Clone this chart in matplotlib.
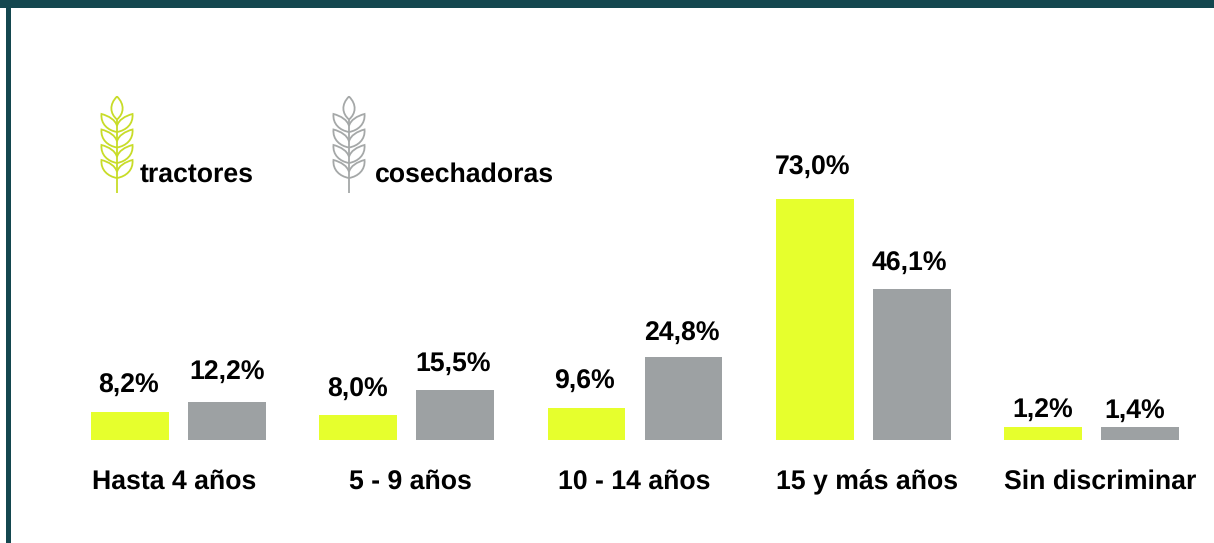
#!/usr/bin/env python

import matplotlib
matplotlib.use("Agg")
import matplotlib.pyplot as plt
from matplotlib.patches import PathPatch, Rectangle
from matplotlib.path import Path

categorias = ["Hasta 4 años", "5 - 9 años", "10 - 14 años", "15 y más años", "Sin discriminar"]
# printed labels
tractores = ["8,2%", "8,0%", "9,6%", "73,0%", "1,2%"]
cosechadoras = ["12,2%", "15,5%", "24,8%", "46,1%", "1,4%"]
# bar heights as drawn in the picture (small bars are not quite to scale there)
alto_tractores = [8.5, 7.6, 9.7, 73.0, 3.9]
alto_cosechadoras = [11.5, 15.2, 25.1, 45.8, 3.9]

# label nudges in px
dx_t = [-1, -1, -2, -2, -0.5]
dx_c = [0, -2, -2, -2, -5]
gap_t = [19, 18, 19, 24, 9]
gap_c = [22, 19, 16, 18, 9]
dx_cat = [-4.5, 3.7, -0.5, 3.5, 8.5]

AMARILLO = "#e6ff2d"
GRIS = "#9da1a3"
MARCO = "#14474f"

plt.rcParams['font.family'] = ['Liberation Sans', 'DejaVu Sans']
plt.rcParams['font.weight'] = 'bold'
plt.rcParams['text.hinting'] = 'none'

W, H = 1214, 543
fig = plt.figure(figsize=(W / 100, H / 100), dpi=100, facecolor="white")

# px per unit, measured on the picture
ux = 228.25
uy = 3.30
x0 = 178.5
base = 440
fs = 19.2

ax = fig.add_axes([0, 0, 1, 1])
ax.set_xlim(-x0 / ux, (W - x0) / ux)
ax.set_ylim(-(H - base) / uy, base / uy)
ax.axis("off")

ancho = 0.34
sep = 0.2125
for i, cat in enumerate(categorias):
    ax.bar(i - sep, alto_tractores[i], ancho, color=AMARILLO)
    ax.bar(i + sep, alto_cosechadoras[i], ancho, color=GRIS)
    ax.annotate(tractores[i], (i - sep, alto_tractores[i]), xytext=(dx_t[i], gap_t[i]),
                textcoords="offset pixels", ha="center", va="baseline", fontsize=fs, color="black")
    ax.annotate(cosechadoras[i], (i + sep, alto_cosechadoras[i]), xytext=(dx_c[i], gap_c[i]),
                textcoords="offset pixels", ha="center", va="baseline", fontsize=fs, color="black")
    ax.annotate(cat, (i, 0), xytext=(dx_cat[i], -49), textcoords="offset pixels",
                ha="center", va="baseline", fontsize=fs, color="black")

# frame and icons in pixel coordinates
over = fig.add_axes([0, 0, 1, 1], facecolor="none")
over.set_xlim(0, W)
over.set_ylim(H, 0)
over.axis("off")
over.add_patch(Rectangle((0, 0), W, 8, color=MARCO, lw=0))
over.add_patch(Rectangle((6, 0), 5, H, color=MARCO, lw=0))


def espiga(cx, color):
    top = 96.5
    lw = 1.3
    M, L, C = Path.MOVETO, Path.LINETO, Path.CURVE4
    verts = [(cx, top), (cx - 8, top + 8), (cx - 7, top + 17), (cx, top + 23),
             (cx + 7, top + 17), (cx + 8, top + 8), (cx, top)]
    codes = [M, C, C, C, C, C, C]
    over.add_patch(PathPatch(Path(verts, codes), fc="none", ec=color, lw=lw))
    over.plot([cx, cx], [top + 23, 193], color=color, lw=lw, solid_capstyle="butt")
    for ty in (114, 129.5, 145, 160):
        for s in (-1, 1):
            verts = [(cx, ty + 12), (cx + s * 1.5, ty + 6), (cx + s * 8, ty + 2), (cx + s * 15.5, ty),
                     (cx + s * 16.5, ty + 10), (cx + s * 9, ty + 16.5), (cx, ty + 18)]
            over.add_patch(PathPatch(Path(verts, codes), fc="none", ec=color, lw=lw))


espiga(117, "#c8dc28")
espiga(349, "#a5a8a8")
over.text(140, 182, "tractores", fontsize=fs, color="black", ha="left", va="baseline")
over.text(375, 182, "cosechadoras", fontsize=fs, color="black", ha="left", va="baseline")

fig.savefig("out.png", dpi=100)
